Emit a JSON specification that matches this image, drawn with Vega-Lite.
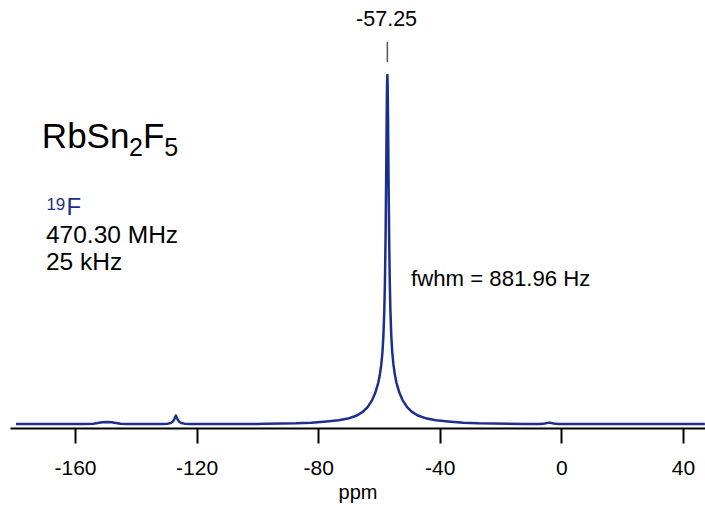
{
  "$schema": "https://vega.github.io/schema/vega-lite/v6.json",
  "width": 695,
  "height": 428,
  "autosize": {"type": "none"},
  "padding": {"left": 10, "top": 0, "right": 0, "bottom": 78},
  "background": "white",
  "config": {"view": {"stroke": null}, "font": "Liberation Sans"},
  "datasets": {
    "spectrum": [
      {"ppm": -179.4, "I": 0}, {"ppm": -175, "I": 0}, {"ppm": -170, "I": 0}, {"ppm": -165, "I": 0},
      {"ppm": -160, "I": 0.01}, {"ppm": -157, "I": 0.02}, {"ppm": -154, "I": 0.1}, {"ppm": -152.5, "I": 0.3},
      {"ppm": -151, "I": 0.5}, {"ppm": -149.5, "I": 0.6}, {"ppm": -148, "I": 0.5}, {"ppm": -146.5, "I": 0.3},
      {"ppm": -145, "I": 0.1}, {"ppm": -143, "I": 0.02}, {"ppm": -140, "I": 0}, {"ppm": -135, "I": 0},
      {"ppm": -131, "I": 0.03}, {"ppm": -129.5, "I": 0.1}, {"ppm": -128.5, "I": 0.3}, {"ppm": -127.8, "I": 0.7},
      {"ppm": -127.3, "I": 1.4}, {"ppm": -126.8, "I": 2.4}, {"ppm": -126.3, "I": 1.4}, {"ppm": -125.8, "I": 0.7},
      {"ppm": -125.1, "I": 0.3}, {"ppm": -124, "I": 0.1}, {"ppm": -122.5, "I": 0.03}, {"ppm": -120, "I": 0},
      {"ppm": -115, "I": 0}, {"ppm": -110, "I": 0}, {"ppm": -105, "I": 0}, {"ppm": -100, "I": 0.02},
      {"ppm": -97.25, "I": 0.05}, {"ppm": -87.25, "I": 0.18}, {"ppm": -82.25, "I": 0.35}, {"ppm": -77.25, "I": 0.7},
      {"ppm": -73.25, "I": 1.05}, {"ppm": -70.25, "I": 1.55}, {"ppm": -67.25, "I": 2.45}, {"ppm": -65.25, "I": 3.53},
      {"ppm": -63.75, "I": 4.83}, {"ppm": -62.25, "I": 6.86}, {"ppm": -61.25, "I": 8.87}, {"ppm": -60.25, "I": 11.8},
      {"ppm": -59.75, "I": 13.95}, {"ppm": -59.25, "I": 17.0}, {"ppm": -58.85, "I": 20.7}, {"ppm": -58.55, "I": 25.2},
      {"ppm": -58.25, "I": 32.6}, {"ppm": -58.05, "I": 40.5}, {"ppm": -57.85, "I": 52.5}, {"ppm": -57.65, "I": 69.8},
      {"ppm": -57.45, "I": 89.9}, {"ppm": -57.35, "I": 97.2}, {"ppm": -57.25, "I": 100}, {"ppm": -57.15, "I": 97.2},
      {"ppm": -57.05, "I": 89.9}, {"ppm": -56.85, "I": 69.8}, {"ppm": -56.65, "I": 52.5}, {"ppm": -56.45, "I": 40.5},
      {"ppm": -56.25, "I": 32.6}, {"ppm": -55.95, "I": 25.2}, {"ppm": -55.65, "I": 20.7}, {"ppm": -55.25, "I": 17.0},
      {"ppm": -54.75, "I": 13.95}, {"ppm": -54.25, "I": 11.8}, {"ppm": -53.25, "I": 8.87}, {"ppm": -52.25, "I": 6.86},
      {"ppm": -50.75, "I": 4.83}, {"ppm": -49.25, "I": 3.53}, {"ppm": -47.25, "I": 2.45}, {"ppm": -44.25, "I": 1.55},
      {"ppm": -41.25, "I": 1.05}, {"ppm": -37.25, "I": 0.7}, {"ppm": -32.25, "I": 0.35}, {"ppm": -27.25, "I": 0.18},
      {"ppm": -17.25, "I": 0.05}, {"ppm": -12, "I": 0.02}, {"ppm": -7, "I": 0.02}, {"ppm": -5.5, "I": 0.15},
      {"ppm": -4, "I": 0.4}, {"ppm": -2.5, "I": 0.15}, {"ppm": -1, "I": 0.02}, {"ppm": 5, "I": 0},
      {"ppm": 10, "I": 0}, {"ppm": 20, "I": 0}, {"ppm": 30, "I": 0}, {"ppm": 40, "I": 0}, {"ppm": 47.2, "I": 0}
    ]
  },
  "encoding": {
    "x": {"field": "ppm", "type": "quantitative",
      "scale": {"domain": [-181.38, 47.24], "nice": false, "zero": false},
      "axis": {"values": [-160, -120, -80, -40, 0, 40], "title": "ppm", "grid": false,
        "labelExpr": "toString(datum.value)",
        "domainColor": "black", "domainWidth": 2, "tickColor": "black", "tickWidth": 2, "tickSize": 15,
        "labelFontSize": 21, "labelFont": "Liberation Sans", "labelColor": "black", "labelPadding": 14,
        "titleFontSize": 20, "titleFont": "Liberation Sans", "titleFontWeight": "normal", "titleColor": "black", "titlePadding": 4}},
    "y": {"field": "I", "type": "quantitative", "scale": {"domain": [-1.146, 121.49], "nice": false, "zero": false}, "axis": null}
  },
  "layer": [
    {"data": {"name": "spectrum"}, "mark": {"type": "line", "color": "#1c2f8c", "strokeWidth": 2.5, "strokeJoin": "round", "clip": true}},
    {"data": {"values": [{"ppm": -57.25, "I": 103.7, "I2": 109.5}]},
      "mark": {"type": "rule", "color": "#555555", "strokeWidth": 1.5},
      "encoding": {"y2": {"field": "I2"}}},
    {"data": {"values": [{"ppm": -57.5, "I": 115.8, "t": "-57.25"}]},
      "mark": {"type": "text", "fontSize": 21.5, "align": "center", "baseline": "middle", "color": "black"},
      "encoding": {"text": {"field": "t"}}},
    {"data": {"values": [{"ppm": -170.9, "I": 79.2, "t": "RbSn"}, {"ppm": -137.6, "I": 79.2, "t": "F"}]},
      "mark": {"type": "text", "fontSize": 35, "align": "left", "baseline": "alphabetic", "color": "black"},
      "encoding": {"text": {"field": "t"}}},
    {"data": {"values": [{"ppm": -142.2, "I": 76.9, "t": "2"}, {"ppm": -130.6, "I": 76.9, "t": "5"}]},
      "mark": {"type": "text", "fontSize": 25, "align": "left", "baseline": "alphabetic", "color": "black"},
      "encoding": {"text": {"field": "t"}}},
    {"data": {"values": [{"ppm": -169.4, "I": 61.4, "t": "19"}]},
      "mark": {"type": "text", "fontSize": 17, "align": "left", "baseline": "alphabetic", "color": "#1c2f8c"},
      "encoding": {"text": {"field": "t"}}},
    {"data": {"values": [{"ppm": -162.8, "I": 59.9, "t": "F"}]},
      "mark": {"type": "text", "fontSize": 24, "align": "left", "baseline": "alphabetic", "color": "#1c2f8c"},
      "encoding": {"text": {"field": "t"}}},
    {"data": {"values": [{"ppm": -169.54, "I": 51.9, "t": "470.30 MHz"}, {"ppm": -169.54, "I": 44.1, "t": "25 kHz"}]},
      "mark": {"type": "text", "fontSize": 24.5, "align": "left", "baseline": "alphabetic", "color": "black"},
      "encoding": {"text": {"field": "t"}}},
    {"data": {"values": [{"ppm": -49.47, "I": 39.4, "t": "fwhm = 881.96 Hz"}]},
      "mark": {"type": "text", "fontSize": 22.2, "align": "left", "baseline": "alphabetic", "color": "black"},
      "encoding": {"text": {"field": "t"}}}
  ]
}
